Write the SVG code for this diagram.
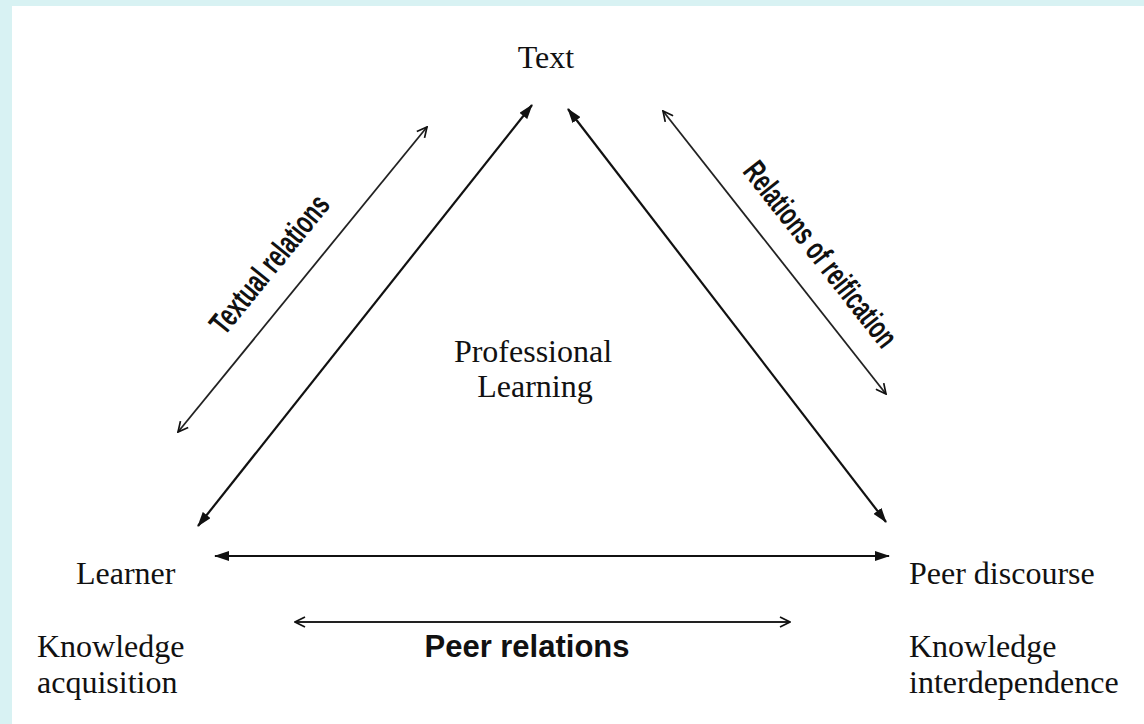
<svg xmlns="http://www.w3.org/2000/svg" width="1144" height="724" viewBox="0 0 1144 724">
  <defs>
    <!-- solid head for the triangle sides -->
    <marker id="headSolid" viewBox="0 0 15 10" refX="14" refY="5" markerWidth="15" markerHeight="10" markerUnits="userSpaceOnUse" orient="auto-start-reverse">
      <path d="M0,0 L15,5 L0,10 Z" fill="#111"/>
    </marker>
    <!-- open head for the relation arrows -->
    <marker id="headOpen" viewBox="0 0 12 12" refX="11" refY="6" markerWidth="12" markerHeight="12" markerUnits="userSpaceOnUse" orient="auto-start-reverse">
      <path d="M1,1 L11,6 L1,11" fill="none" stroke="#111" stroke-width="1.7"/>
    </marker>
    <style>
      .label { font-family: "Liberation Serif", "Times New Roman", serif; font-size: 32px; fill: #111; }
      .rel { font-family: "Liberation Sans", Arial, sans-serif; font-weight: bold; fill: #111; }
      .main { stroke: #111; stroke-width: 2.2; fill: none; marker-start: url(#headSolid); marker-end: url(#headSolid); }
      .outer { stroke: #222; stroke-width: 1.8; fill: none; marker-start: url(#headOpen); marker-end: url(#headOpen); }
    </style>
  </defs>

  <!-- page frame -->
  <rect x="0" y="0" width="1144" height="724" fill="#d8f2f3"/>
  <rect x="12" y="6" width="1132" height="718" fill="#ffffff"/>

  <g id="connectors">
    <line class="main" x1="198" y1="526" x2="532" y2="105"/>
    <line class="main" x1="568" y1="109" x2="886" y2="522"/>
    <line class="main" x1="215" y1="556" x2="889" y2="556"/>
    <line class="outer" x1="178" y1="432" x2="427" y2="127"/>
    <line class="outer" x1="663" y1="111" x2="886" y2="394"/>
    <line class="outer" x1="295" y1="622" x2="790" y2="622"/>
  </g>

  <g id="node-text">
    <text class="label" x="546" y="68" text-anchor="middle">Text</text>
  </g>

  <g id="node-learner">
    <text class="label" x="76" y="584">Learner</text>
    <text class="label" x="37" y="657">Knowledge</text>
    <text class="label" x="37" y="693">acquisition</text>
  </g>

  <g id="node-peer-discourse">
    <text class="label" x="909" y="584">Peer discourse</text>
    <text class="label" x="909" y="657">Knowledge</text>
    <text class="label" x="909" y="693">interdependence</text>
  </g>

  <g id="node-professional-learning">
    <text class="label" x="533" y="362" text-anchor="middle">Professional</text>
    <text class="label" x="535" y="397" text-anchor="middle">Learning</text>
  </g>

  <g id="relation-labels">
    <text class="rel" font-size="32" text-anchor="middle" textLength="169" lengthAdjust="spacingAndGlyphs" transform="translate(278,271) rotate(-50.8)">Textual relations</text>
    <text class="rel" font-size="32" text-anchor="middle" textLength="227" lengthAdjust="spacingAndGlyphs" transform="translate(812,261) rotate(51.8)">Relations of reification</text>
    <text class="rel" font-size="31" x="527" y="657" text-anchor="middle">Peer relations</text>
  </g>
</svg>
